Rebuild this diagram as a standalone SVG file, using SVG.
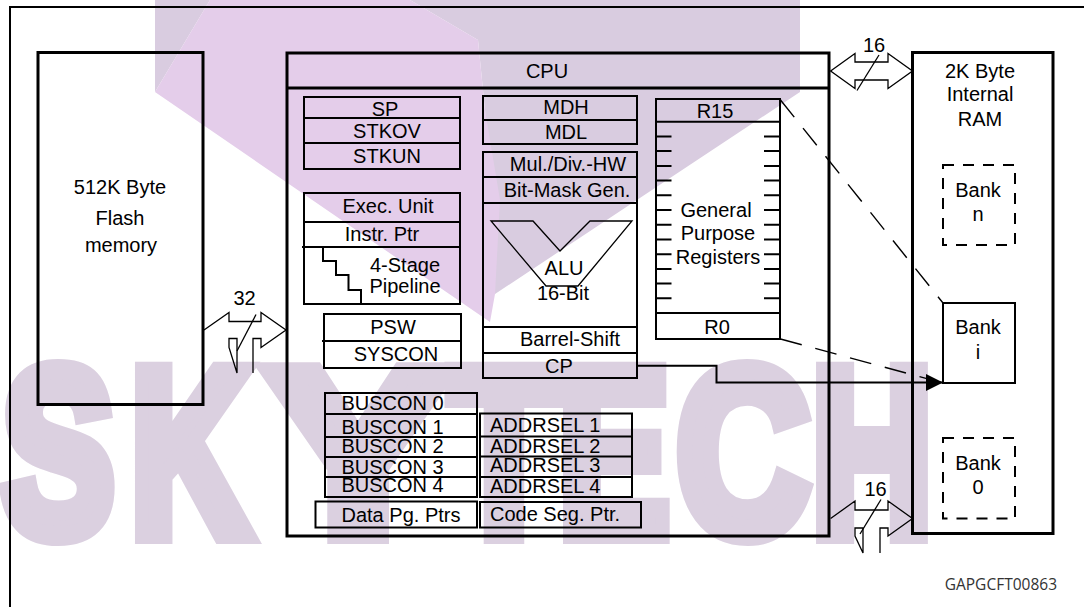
<svg xmlns="http://www.w3.org/2000/svg" width="1084" height="607" viewBox="0 0 1084 607">
<style>
.t{font-family:"Liberation Sans",Arial,sans-serif;font-size:20px;fill:#000}
.m{text-anchor:middle}
.b{fill:none;stroke:#000;stroke-width:2}
.B{fill:none;stroke:#000;stroke-width:3}
.l{fill:none;stroke:#000;stroke-width:1.3}
.dash{fill:none;stroke:#000;stroke-width:1.4;stroke-dasharray:22 14}
.bd{fill:none;stroke:#000;stroke-width:2;stroke-dasharray:11 9}
.wm{font-family:"Liberation Sans",Arial,sans-serif;font-weight:bold;font-size:235px;fill:#dbd0e0;stroke:#dbd0e0;stroke-width:20;stroke-linejoin:miter}
</style>
<defs>
<marker id="ah" viewBox="0 0 17 17" refX="17" refY="8.5" markerWidth="17" markerHeight="17" markerUnits="userSpaceOnUse" orient="auto">
<path d="M0,0 L17,8.5 L0,17 Z" fill="#000"/>
</marker>
</defs>
<rect width="1084" height="607" fill="#fff"/>
<g id="watermark">
<polygon points="155,0 210,0 155,92" fill="#d9cce0"/>
<polygon points="410,0 800,0 800,92 495,294 485,110 478,40" fill="#d9cce0"/>
<polygon points="210,0 410,0 478,40 485,110 500,200 495,294 490,322 155,92" fill="#e4cdea"/>
<text class="wm" x="2" y="534" textLength="112" lengthAdjust="spacingAndGlyphs">S</text>
<text class="wm" x="131" y="534" textLength="118" lengthAdjust="spacingAndGlyphs">K</text>
<text class="wm" x="268" y="534" textLength="180" lengthAdjust="spacingAndGlyphs">Y</text>
<text class="wm" x="450" y="534" textLength="108" lengthAdjust="spacingAndGlyphs">T</text>
<text class="wm" x="559" y="534" textLength="110" lengthAdjust="spacingAndGlyphs">E</text>
<text class="wm" x="677" y="534" textLength="132" lengthAdjust="spacingAndGlyphs">C</text>
<text class="wm" x="812" y="534" textLength="120" lengthAdjust="spacingAndGlyphs">H</text>
</g>
<g id="frame">
<path d="M10,607 V7 H1084" fill="none" stroke="#000" stroke-width="2"/>
</g>
<g id="flash">
<rect class="B" x="38" y="52.5" width="165" height="352"/>
<text class="t m" x="120" y="194">512K Byte</text>
<text class="t m" x="120" y="225">Flash</text>
<text class="t m" x="121" y="252">memory</text>
</g>
<g id="cpu">
<rect class="B" x="287" y="53" width="542" height="483"/>
<line class="B" x1="287" y1="88" x2="829" y2="88"/>
<text class="t m" x="547" y="78">CPU</text>
</g>
<g id="sp">
<rect class="b" x="304" y="97" width="156" height="72"/>
<path class="b" d="M304,118 H460 M304,143 H460"/>
<text class="t m" x="385" y="116">SP</text>
<text class="t m" x="387" y="137.5">STKOV</text>
<text class="t m" x="387" y="162.5">STKUN</text>
</g>
<g id="mdh">
<rect class="b" x="483" y="96" width="154" height="48"/>
<line class="b" x1="483" y1="120" x2="637" y2="120"/>
<text class="t m" x="566" y="114">MDH</text>
<text class="t m" x="566" y="139">MDL</text>
</g>
<g id="alu">
<rect class="b" x="483" y="152" width="154" height="226"/>
<path class="b" d="M483,177 H637 M483,203 H637 M483,327 H637 M483,353 H637"/>
<text class="t m" x="568" y="171">Mul./Div.-HW</text>
<text class="t m" x="567" y="196.5">Bit-Mask Gen.</text>
<polygon points="491,221 533,221 560,251 590,221 632,221 578,286 546,286" fill="none" stroke="#000" stroke-width="1.3"/>
<text class="t m" x="564" y="275">ALU</text>
<text class="t m" x="563" y="300">16-Bit</text>
<text class="t m" x="570" y="346">Barrel-Shift</text>
<text class="t m" x="559" y="373">CP</text>
</g>
<g id="regs">
<rect class="b" x="656" y="99" width="124" height="240"/>
<path class="b" d="M656,121.7 H780 M656,313 H780"/>
<path class="b" d="M656,136.4 h15.5 M656,151.1 h15.5 M656,165.9 h15.5 M656,180.6 h15.5 M656,195.3 h15.5 M656,210 h15.5 M656,224.7 h15.5 M656,239.4 h15.5 M656,254.2 h15.5 M656,268.9 h15.5 M656,283.6 h15.5 M656,298.3 h15.5"/>
<path class="b" d="M780,136.4 h-16 M780,151.1 h-16 M780,165.9 h-16 M780,180.6 h-16 M780,195.3 h-16 M780,210 h-16 M780,224.7 h-16 M780,239.4 h-16 M780,254.2 h-16 M780,268.9 h-16 M780,283.6 h-16 M780,298.3 h-16"/>
<text class="t m" x="715" y="118">R15</text>
<text class="t m" x="716" y="217">General</text>
<text class="t m" x="718" y="240">Purpose</text>
<text class="t m" x="718" y="264">Registers</text>
<text class="t m" x="717" y="334">R0</text>
</g>
<g id="exec">
<rect class="b" x="304" y="193" width="156" height="111"/>
<path class="b" d="M304,222 H460 M302,247 H460"/>
<path class="b" d="M323,247 V261 H336 V275 H348.5 V290 H361 V304"/>
<text class="t m" x="388" y="213">Exec. Unit</text>
<text class="t m" x="382" y="241">Instr. Ptr</text>
<text class="t m" x="405" y="272">4-Stage</text>
<text class="t m" x="405" y="293">Pipeline</text>
</g>
<g id="psw">
<rect class="b" x="324" y="314" width="137" height="54"/>
<line class="b" x1="322" y1="341" x2="461" y2="341"/>
<text class="t m" x="393" y="334">PSW</text>
<text class="t m" x="396" y="361">SYSCON</text>
</g>
<g id="buscon">
<rect class="b" x="325" y="393" width="152" height="104"/>
<path class="b" d="M325,414 H477 M325,437 H477 M325,457 H477 M325,477 H477"/>
<text class="t" x="341.5" y="410">BUSCON 0</text>
<text class="t" x="341.5" y="433.5">BUSCON 1</text>
<text class="t" x="341.5" y="453">BUSCON 2</text>
<text class="t" x="341.5" y="473.5">BUSCON 3</text>
<text class="t" x="341.5" y="491.5">BUSCON 4</text>
</g>
<g id="addrsel">
<rect class="b" x="480" y="413.5" width="152" height="83.5"/>
<path class="b" d="M480,436.5 H632 M480,456.5 H632 M480,477 H632"/>
<text class="t" x="490" y="432">ADDRSEL 1</text>
<text class="t" x="490" y="453">ADDRSEL 2</text>
<text class="t" x="490" y="472">ADDRSEL 3</text>
<text class="t" x="490" y="492.5">ADDRSEL 4</text>
</g>
<g id="datapg">
<rect class="b" x="315.5" y="501.5" width="161.5" height="26"/>
<text class="t" x="341.5" y="522">Data Pg. Ptrs</text>
</g>
<g id="codeseg">
<rect class="b" x="480" y="502" width="161" height="25.5"/>
<text class="t" x="490" y="520.5">Code Seg. Ptr.</text>
</g>
<g id="ram">
<rect class="B" x="912.5" y="52.5" width="140.5" height="481"/>
<text class="t m" x="980" y="78">2K Byte</text>
<text class="t m" x="980" y="101">Internal</text>
<text class="t m" x="980" y="126">RAM</text>
</g>
<g id="bank-n">
<rect class="bd" x="943" y="165" width="72" height="80"/>
<text class="t m" x="978" y="197">Bank</text>
<text class="t m" x="978" y="221">n</text>
</g>
<g id="bank-i">
<rect class="b" x="943" y="303" width="72" height="80"/>
<text class="t m" x="978" y="334">Bank</text>
<text class="t m" x="978" y="359">i</text>
</g>
<g id="bank-0">
<rect class="bd" x="943" y="438" width="72" height="80.5"/>
<text class="t m" x="978" y="469.5">Bank</text>
<text class="t m" x="978" y="494">0</text>
</g>
<g id="connectors">
<path class="l" d="M204,330 L229,312.5 V321.5 H261 V312.5 L286,330 L261,347.5 V338.5 H253 V373 M237,373 V338.5 H229 V347.5 Z"/>
<line class="l" x1="256" y1="314.5" x2="237" y2="351"/>
<text class="t m" x="244.5" y="305">32</text>
<path class="l" d="M830.6,71 L855,53.5 V62 H888 V53.5 L912.5,71 L888,88.5 V80 H855 V88.5 Z"/>
<line class="l" x1="879" y1="55" x2="857" y2="90.5"/>
<text class="t m" x="874" y="52">16</text>
<path class="l" d="M830.6,518.5 L855,501 V510 H888 V501 L912.5,518.5 L888,536 V528 H880 V553 M863,553 V528 H855 V536 Z"/>
<line class="l" x1="881" y1="499.5" x2="860" y2="534"/>
<text class="t m" x="875.5" y="496">16</text>
<line class="dash" x1="780.5" y1="100" x2="943" y2="303"/>
<line class="dash" x1="780.5" y1="339" x2="943" y2="383"/>
<path d="M637,365.7 H716.5 V382.5 H943" fill="none" stroke="#000" stroke-width="2" marker-end="url(#ah)"/>
</g>
<g id="label">
<text x="1057" y="589.5" text-anchor="end" font-family="'Open Sans',sans-serif" font-size="15.5" fill="#333">GAPGCFT00863</text>
</g>
</svg>
